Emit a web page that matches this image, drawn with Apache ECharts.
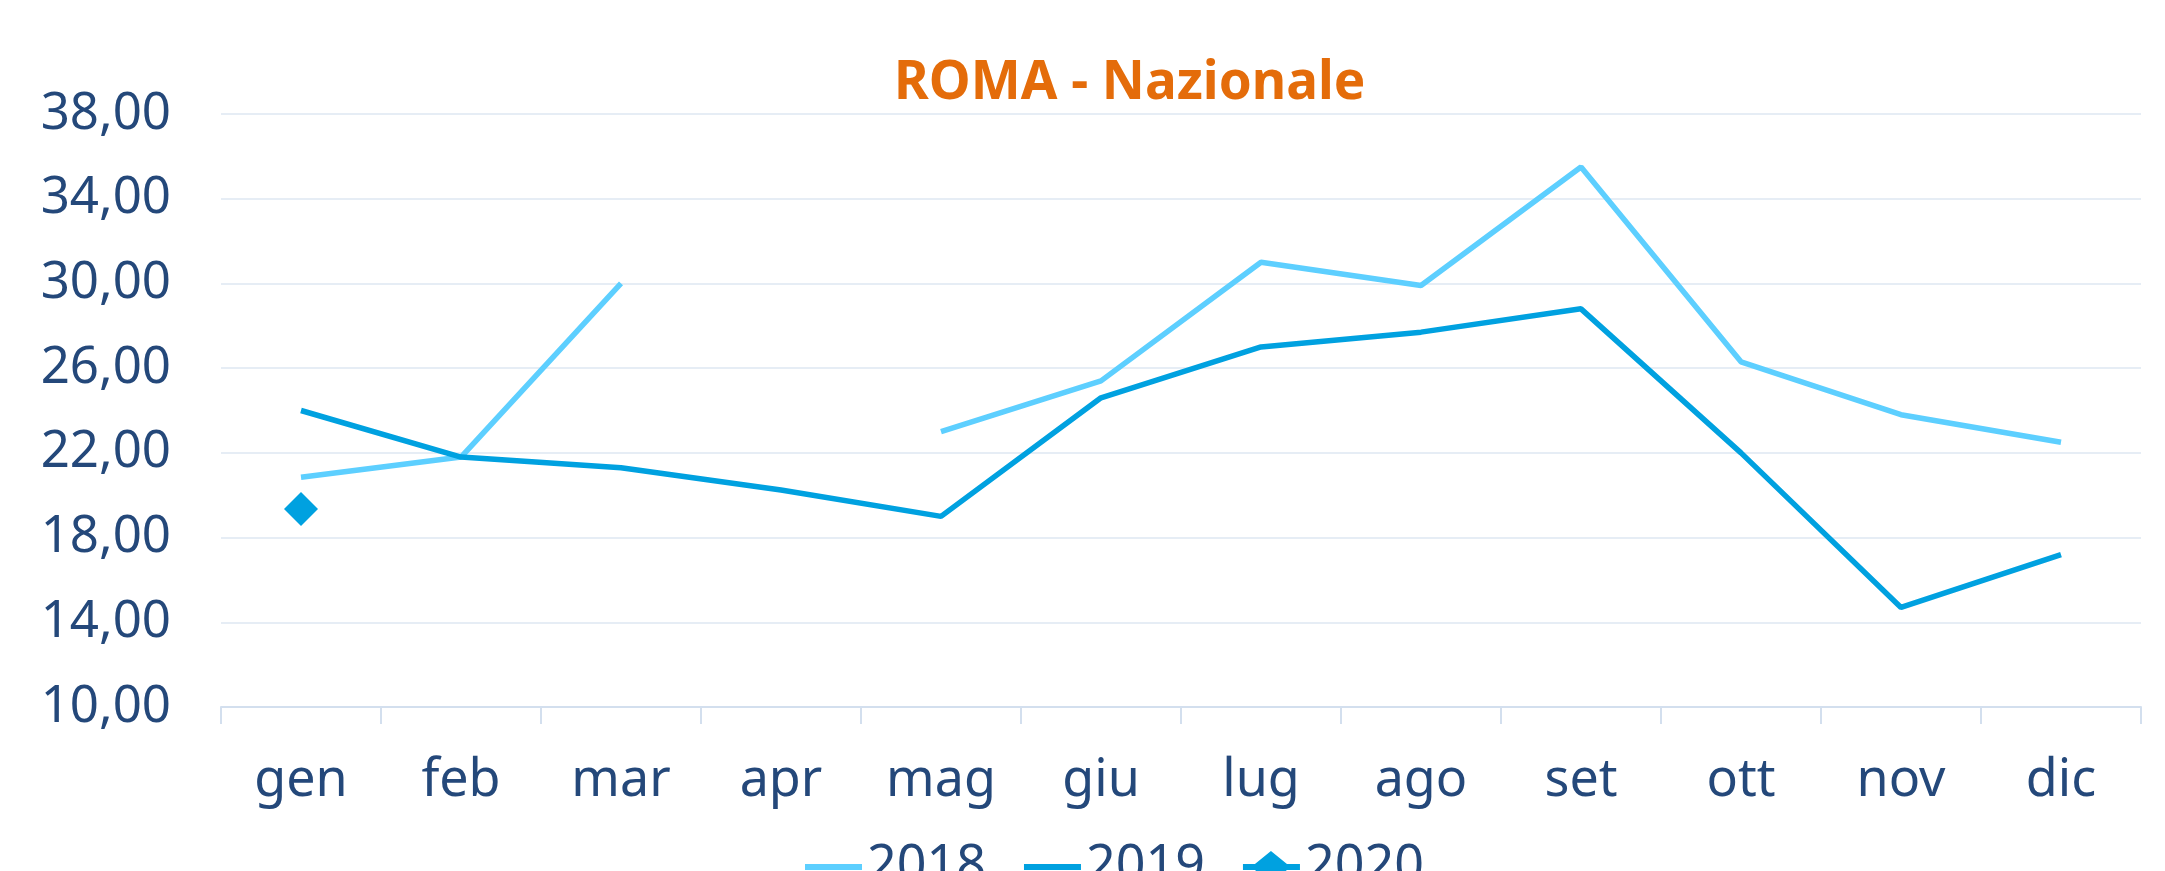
<!DOCTYPE html>
<html>
<head>
<meta charset="utf-8">
<script src="https://cdn.jsdelivr.net/npm/echarts@6/dist/echarts.min.js"></script>
<style>
  html, body { margin: 0; padding: 0; background: #fff; }
  #chart { width: 2165px; height: 871px; }
</style>
</head>
<body>
<div id="chart"></div>
<script>
// mesi
var months = ['gen', 'feb', 'mar', 'apr', 'mag', 'giu', 'lug', 'ago', 'set', 'ott', 'nov', 'dic'];
// valori
var data2018 = [20.85, 21.8, 30.0, null, 23.0, 25.4, 31.0, 29.9, 35.5, 26.3, 23.8, 22.5];
var data2019 = [24.0, 21.8, 21.3, 20.25, 19.0, 24.6, 27.0, 27.7, 28.8, 22.0, 14.7, 17.2];
var data2020 = [19.35, null, null, null, null, null, null, null, null, null, null, null];

var FONT = '"Noto Sans", "Open Sans", sans-serif';
var NAVY = '#24487a';

// icone della legenda: linea semplice e linea con rombo
var lineIcon = 'path://M0,0 M57,32 M0,13 L57,13 L57,19 L0,19 Z';
var diamondIcon = 'path://M0,13 L12,13 L28,0 L44,13 L57,13 L57,19 L44,19 L28,32 L12,19 L0,19 Z';

var myChart = echarts.init(document.getElementById('chart'));
myChart.setOption({
  animation: false,
  textStyle: { fontFamily: FONT },
  title: {
    text: 'ROMA - Nazionale',
    left: 889,
    top: 52,
    textStyle: { color: '#e46c0a', fontSize: 53, fontWeight: 'bold', fontFamily: FONT }
  },
  legend: {
    data: [
      { name: '2018', icon: lineIcon },
      { name: '2019', icon: lineIcon },
      { name: '2020', icon: diamondIcon }
    ],
    left: 800,
    top: 836,
    itemWidth: 57,
    itemHeight: 32,
    itemGap: 38,
    textStyle: { color: NAVY, fontSize: 52, fontFamily: FONT }
  },
  grid: { left: 221, right: 24, top: 114, bottom: 164 },
  xAxis: {
    type: 'category',
    data: months,
    axisLine: { lineStyle: { color: '#d3dfee', width: 2 } },
    axisTick: { show: true, length: 17, lineStyle: { color: '#d3dfee', width: 2 } },
    axisLabel: { color: NAVY, fontSize: 52, margin: 48, fontFamily: FONT }
  },
  yAxis: {
    type: 'value',
    min: 10,
    max: 38,
    interval: 4,
    axisLine: { show: false },
    axisTick: { show: false },
    splitLine: { lineStyle: { color: '#e6edf5', width: 2 } },
    axisLabel: {
      color: NAVY,
      fontSize: 51,
      margin: 50,
      fontFamily: FONT,
      formatter: function (v) { return v.toFixed(2).replace('.', ','); }
    }
  },
  series: [
    {
      name: '2018',
      type: 'line',
      data: data2018,
      symbol: 'none',
      connectNulls: false,
      lineStyle: { color: '#5dcfff', width: 5.5 },
      itemStyle: { color: '#5dcfff' }
    },
    {
      name: '2019',
      type: 'line',
      data: data2019,
      symbol: 'none',
      lineStyle: { color: '#00a1e0', width: 5.5 },
      itemStyle: { color: '#00a1e0' }
    },
    {
      name: '2020',
      type: 'line',
      data: data2020,
      symbol: 'diamond',
      symbolSize: 34,
      showSymbol: true,
      lineStyle: { color: '#00a1e0', width: 5.5 },
      itemStyle: { color: '#00a1e0' }
    }
  ]
});
</script>
</body>
</html>
